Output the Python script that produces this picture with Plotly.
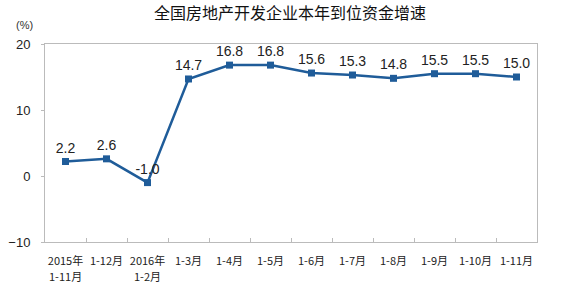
import plotly.graph_objects as go

categories = ["2015年", "1-12月", "2016年", "1-3月", "1-4月", "1-5月",
              "1-6月", "1-7月", "1-8月", "1-9月", "1-10月", "1-11月"]
sub_labels = {"2015年": "1-11月", "2016年": "1-2月"}
values = [2.2, 2.6, -1.0, 14.7, 16.8, 16.8, 15.6, 15.3, 14.8, 15.5, 15.5, 15.0]
labels = [f"{v:.1f}" for v in values]
y_ticks = [-10, 0, 10, 20]

FONT = "Liberation Sans, Noto Sans CJK SC, sans-serif"
CJK = "Noto Sans CJK SC, sans-serif"
color = "#1F5C99"

fig = go.Figure()
fig.add_trace(go.Scatter(
    x=categories, y=values, mode="lines+markers+text",
    line=dict(color=color, width=2.5),
    marker=dict(symbol="square", size=7, color=color),
    text=labels, textposition="top center",
    textfont=dict(family=FONT, size=14, color="#222222"),
    cliponaxis=False, showlegend=False,
))

fig.update_layout(
    width=563, height=293,
    margin=dict(l=45, r=26, t=44, b=51),
    paper_bgcolor="white", plot_bgcolor="white",
    title=dict(text="全国房地产开发企业本年到位资金增速", x=0.515, xanchor="center",
               y=0.955, yanchor="middle",
               font=dict(family=CJK, size=16, color="#111111")),
    font=dict(family=CJK, size=11, color="#222222"),
)
fig.update_xaxes(
    type="category", range=[-0.5, 11.5], tickson="boundaries",
    ticks="inside", ticklen=4, tickcolor="#BBBBBB",
    showline=True, linecolor="#BBBBBB", linewidth=1, mirror=True,
    showgrid=False, tickfont=dict(family=CJK, size=11, color="#222222"),
    tickangle=0, ticklabelstandoff=9, automargin=False,
)
fig.update_yaxes(
    range=[-10, 20], tickvals=y_ticks, ticks="outside", ticklen=3, tickcolor="#BBBBBB",
    showline=True, linecolor="#BBBBBB", linewidth=1, mirror=True,
    showgrid=False, zeroline=False, ticklabelstandoff=8, automargin=False,
    tickfont=dict(family=FONT, size=13, color="#222222"),
)
for cat, sub in sub_labels.items():
    fig.add_annotation(text=sub, x=cat, xref="x", yref="paper", y=0, yshift=-34,
                       xanchor="center", yanchor="middle", showarrow=False,
                       borderpad=0,
                       font=dict(family=CJK, size=11, color="#222222"))
fig.add_annotation(text="(%)", xref="paper", yref="paper", x=-0.02, y=1.0,
                   yshift=19, xanchor="right", yanchor="middle", showarrow=False,
                   font=dict(family=FONT, size=11, color="#333333"))

fig.write_html("out.html")
